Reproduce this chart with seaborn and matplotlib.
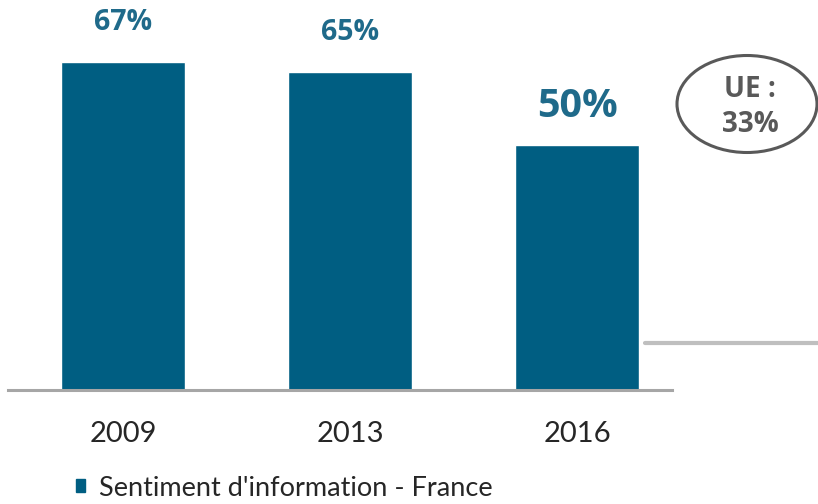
import matplotlib.pyplot as plt
import matplotlib.patches as mpatches
from matplotlib.lines import Line2D
import seaborn as sns

years = ["2009", "2013", "2016"]
values = [67, 65, 50]
labels = ["67%", "65%", "50%"]
label_sizes = [20.5, 20.5, 28.5]
legend_label = "Sentiment d'information - France"
ue_text = "UE :\n33%"

TEAL = "#005E82"
LABEL_TEAL = "#1F6A8A"
GREY = "#595959"

sns.set_theme(style="white")
plt.rcParams["font.family"] = ["Lato", "DejaVu Sans"]

fig = plt.figure(figsize=(8.18, 5.04), dpi=100)
ax = fig.add_axes([8 / 818, 114 / 504, 664 / 818, 390 / 504])

sns.barplot(x=years, y=values, color=TEAL, saturation=1, width=0.546, ax=ax)

for i, (v, lab, fs) in enumerate(zip(values, labels, label_sizes)):
    ax.annotate(lab, (i, v), xytext=(0, 28), textcoords="offset points",
                ha="center", va="center", fontsize=fs, fontweight="bold",
                color=LABEL_TEAL, family=["Open Sans", "DejaVu Sans"])

ax.set_xlim(-0.507, 2.418)
ax.set_ylim(0, 79.6)
ax.set_yticks([])
ax.set_xlabel("")
ax.set_ylabel("")
for side in ["left", "right", "top"]:
    ax.spines[side].set_visible(False)
ax.spines["bottom"].set_color("#A6A6A6")
ax.spines["bottom"].set_linewidth(2.2)
ax.tick_params(axis="x", length=0, pad=22, labelsize=21, labelcolor="#262626")

# grey separator line at the right
fig.add_artist(Line2D([645 / 818, 1.0], [1 - 343 / 504, 1 - 343 / 504],
                      transform=fig.transFigure, color="#BFBFBF", lw=3))

# EU callout
ell = mpatches.Ellipse((747 / 818, 1 - 104 / 504), 140 / 818, 97 / 504,
                       transform=fig.transFigure, facecolor="white",
                       edgecolor=GREY, lw=2.2)
fig.add_artist(ell)
fig.text(750 / 818, 1 - 107 / 504, ue_text, ha="center", va="center",
         fontsize=20, fontweight="bold", color=GREY, linespacing=1.25,
         family=["Open Sans", "DejaVu Sans"])

handle = mpatches.Patch(color=TEAL, label=legend_label)
fig.legend(handles=[handle], loc="center left",
           bbox_to_anchor=(76 / 818, 1 - 488 / 504), frameon=False,
           handlelength=0.35, handleheight=0.35, handletextpad=0.5,
           borderpad=0, borderaxespad=0, fontsize=19.5,
           labelcolor="#262626")

fig.savefig("out.png", dpi=100)
